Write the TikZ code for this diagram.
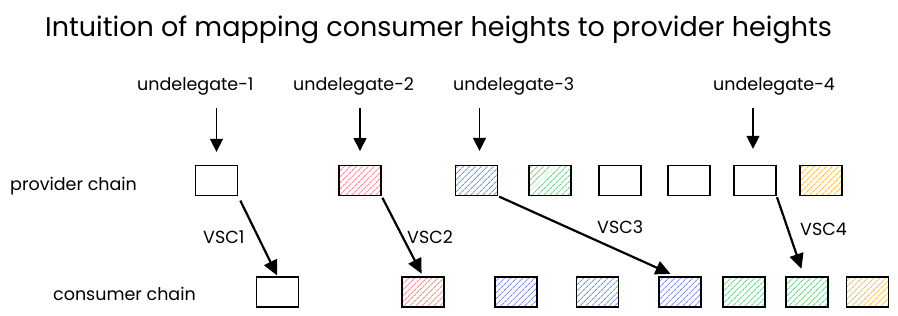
\documentclass[tikz,border=0pt]{standalone}
\usepackage{fontspec}
\setmainfont{Poppins}
\usetikzlibrary{arrows.meta,patterns.meta,calc}
\definecolor{hred}{HTML}{FF8A8A}
\definecolor{hblue}{HTML}{7A93F2}
\definecolor{hgreen}{HTML}{74D484}
\definecolor{horange}{HTML}{FFBE48}
\tikzset{
  blk/.style={draw=black, line width=1.3pt, minimum width=42pt, minimum height=30pt, inner sep=0pt},
  hatch/.style={blk, pattern={Lines[angle=45,distance=4pt,line width=0.9pt]}, pattern color=#1},
  lbl/.style={anchor=base west, inner sep=0pt, font=\fontsize{17.5}{20}\selectfont},
  ttl/.style={anchor=base west, inner sep=0pt, font=\fontsize{27}{30}\selectfont},
  downarr/.style={line width=1.5pt, -{Triangle[length=13pt,width=13pt]}},
  maparr/.style={line width=2.2pt, -{Triangle[length=15pt,width=14pt]}},
}
\begin{document}
\begin{tikzpicture}[x=1pt,y=-1pt]
\useasboundingbox (0,0) rectangle (898,316);
% title
\node[ttl] (title) at (45,36) {Intuition of mapping consumer heights to provider heights};
% row labels
\node[lbl] (plab) at (10,190) {provider chain};
\node[lbl] (clab) at (53,300) {consumer chain};
% undelegate labels
\node[lbl] (u1) at (137,90) {undelegate-1};
\node[lbl] (u2) at (293,90) {undelegate-2};
\node[lbl] (u3) at (453,90) {undelegate-3};
\node[lbl] (u4) at (713,90) {undelegate-4};
% provider chain
\node[blk] (p1) at (216.5,180.5) {};
\node[hatch=hred] (p2) at (360,180.5) {};
\node[hatch=hblue] (p3) at (476.5,180.5) {};
\node[hatch=hgreen] (p4) at (550,180.5) {};
\node[blk] (p5) at (620,180.5) {};
\node[blk] (p6) at (689,180.5) {};
\node[blk] (p7) at (755,180.5) {};
\node[hatch=horange] (p8) at (821,180.5) {};
% consumer chain
\node[blk] (c1) at (277.5,292) {};
\node[hatch=hred] (c2) at (423,292) {};
\node[hatch=hblue] (c3) at (516,292) {};
\node[hatch=hblue] (c4) at (597.5,292) {};
\node[hatch=hblue] (c5) at (680,292) {};
\node[hatch=hgreen] (c6) at (744,292) {};
\node[hatch=hgreen] (c7) at (807,292) {};
\node[hatch=horange] (c8) at (867.5,292) {};
% undelegate arrows
\draw[downarr, shorten <=13pt, shorten >=13pt] (p1.north |- u1.south) -- (p1.north);
\draw[downarr, shorten <=13pt, shorten >=14pt] (p2.north |- u2.south) -- (p2.north);
\draw[downarr, shorten <=13pt, shorten >=14pt] ([xshift=3pt]p3.north |- u3.south) -- ([xshift=3pt]p3.north);
\draw[downarr, shorten <=13pt, shorten >=16pt] ([xshift=-2pt]p7.north |- u4.south) -- ([xshift=-2pt]p7.north);
% mapping arrows
\draw[maparr, shorten <=5pt, shorten >=1pt] (p1.south east) -- (c1.north);
\draw[maparr, shorten <=2pt, shorten >=3pt] (p2.south east) -- (c2.north);
\draw[maparr, shorten <=1pt, shorten >=6pt] (p3.south east) -- ([xshift=-4pt]c5.north);
\draw[maparr, shorten <=1pt, shorten >=8pt] (p7.south east) -- ([xshift=-3pt]c7.north);
% mapping labels
\node[lbl] (v1) at (203,243) {VSC1};
\node[lbl] (v2) at (407,243) {VSC2};
\node[lbl] (v3) at (597,233) {VSC3};
\node[lbl] (v4) at (800,235) {VSC4};
\end{tikzpicture}
\end{document}
